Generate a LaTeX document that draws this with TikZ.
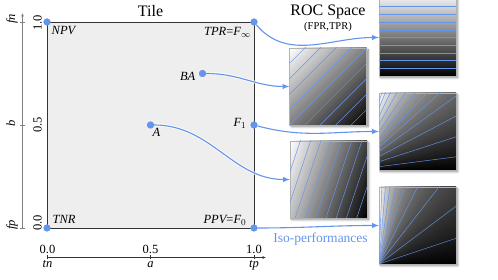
\documentclass[tikz,border=0pt]{standalone}
\usepackage{fontspec}
\setmainfont{Liberation Serif}
\usetikzlibrary{arrows.meta,shadows.blur}
\definecolor{cblue}{HTML}{6495ED}
\definecolor{tilefill}{HTML}{EEEEEE}
\pgfdeclarefunctionalshading{shtpr}{\pgfpoint{0bp}{0bp}}{\pgfpoint{100bp}{100bp}}{}{exch pop 25 sub 50 div 0.92 mul dup dup}
\pgfdeclarefunctionalshading{shba}{\pgfpoint{0bp}{0bp}}{\pgfpoint{100bp}{100bp}}{}{25 sub 50 div exch 25 sub 50 div sub 1 add 2 div dup dup}
\pgfdeclarefunctionalshading{shacc}{\pgfpoint{0bp}{0bp}}{\pgfpoint{100bp}{100bp}}{}{25 sub 50 div exch 25 sub 50 div 3 mul sub 3 add 4 div dup dup}
\pgfdeclarefunctionalshading{shfone}{\pgfpoint{0bp}{0bp}}{\pgfpoint{100bp}{100bp}}{}{25 sub 50 div exch 25 sub 50 div 3 mul 1 add 1 index add abs 0.001 add div 2 mul dup dup}
\pgfdeclarefunctionalshading{shppv}{\pgfpoint{0bp}{0bp}}{\pgfpoint{100bp}{100bp}}{}{25 sub 50 div exch 25 sub 50 div 3 mul 1 index add abs 0.001 add div dup dup}
\tikzset{
  tilebox/.style={fill=tilefill, draw=black!80, line width=0.9pt, minimum width=207pt, minimum height=206pt, inner sep=0pt, outer sep=0pt},
  img/.style={shade, draw=black!30, line width=0.3pt, minimum width=77pt, minimum height=77pt, inner sep=0pt, outer sep=0pt,
    blur shadow={shadow xshift=1.8pt, shadow yshift=-1.8pt, shadow blur steps=6, shadow blur radius=2pt, shadow opacity=45}},
  iso/.style={draw=cblue, line width=0.45pt},
  dot/.style={circle, fill=cblue, inner sep=0pt, minimum size=7pt},
  flow/.style={draw=cblue, line width=1.1pt, -{Latex[length=7pt,width=5.5pt]},
    preaction={draw=white, line width=3pt, opacity=0.75}},
  lbl/.style={font=\itshape\fontsize{12.5}{14}\selectfont, inner sep=0pt},
  ticklbl/.style={font=\fontsize{12.5}{14}\selectfont, inner sep=0pt},
  titl/.style={font=\fontsize{16}{18}\selectfont, inner sep=0pt},
  yaxis/.style={draw=black!50, line width=0.9pt},
  xaxis/.style={draw=black!80, line width=0.8pt},
}
\begin{document}
\begin{tikzpicture}[x=1pt,y=1pt]
\useasboundingbox (0,0) rectangle (498,280);
% tile
\node[tilebox] (tile) at (150.5,155) {};
\node[titl, anchor=base] (ttl) at (150.5,263.5) {Tile};
\node[titl, anchor=base] (roc) at (328,264) {ROC Space};
\node[ticklbl, font=\fontsize{10.5}{12}\selectfont, anchor=base] (fprtpr) at (328,250) {(FPR,TPR)};
% axes
\draw[yaxis, -{Latex[length=3.5pt,width=3pt]}] (22.5,52) -- (22.5,267);
\foreach \yy in {52,155,258} \draw[yaxis] (20.3,\yy) -- (24.7,\yy);
\draw[xaxis, -{Latex[length=3.5pt,width=3pt]}] (47,22.5) -- (266,22.5);
\foreach \xx in {47,150.5,254} \draw[xaxis] (\xx,20.5) -- (\xx,24.5);
\node[ticklbl, rotate=90, anchor=base] (y10) at (41.5,257) {1.0};
\node[ticklbl, rotate=90, anchor=base] (y05) at (41.5,155) {0.5};
\node[ticklbl, rotate=90, anchor=base] (y00) at (41.5,57) {0.0};
\node[lbl, rotate=90, anchor=base] (yfn) at (15,261) {fn};
\node[lbl, rotate=90, anchor=base] (yb) at (15,157) {b};
\node[lbl, rotate=90, anchor=base] (yfp) at (15,55) {fp};
\node[ticklbl, anchor=base] (x00) at (47.5,26.7) {0.0};
\node[ticklbl, anchor=base] (x05) at (150.5,26.7) {0.5};
\node[ticklbl, anchor=base] (x10) at (254,26.7) {1.0};
\node[lbl, anchor=base] (xtn) at (47.5,12.5) {tn};
\node[lbl, anchor=base] (xa) at (150.5,12.5) {a};
\node[lbl, anchor=base] (xtp) at (254,12.5) {tp};
% points
\node[dot] (npv) at (47,258) {};
\node[dot] (tpr) at (254,258) {};
\node[dot] (ba) at (202.5,206.5) {};
\node[dot] (f1) at (254,155) {};
\node[dot] (a) at (150.5,155) {};
\node[dot] (tnr) at (47,52) {};
\node[dot] (ppv) at (254,52) {};
\node[lbl, anchor=base west] (lnpv) at (51.5,245) {NPV};
\node[lbl, anchor=base east] (ltpr) at (251,244) {TPR\upshape=\itshape F$_\infty$};
\node[lbl, anchor=base east] (lba) at (195.5,199) {BA};
\node[lbl, anchor=base east] (lf1) at (246.5,153) {F$_1$};
\node[lbl, anchor=base west] (la) at (152.5,143.5) {A};
\node[lbl, anchor=base west] (ltnr) at (52.5,56.7) {TNR};
\node[lbl, anchor=base east] (lppv) at (246.5,56.7) {PPV\upshape=\itshape F$_0$};
% images
\node[img, shading=shtpr] (i1) at (417.5,242.5) {};
\node[img, shading=shba] (i2) at (328,193.5) {};
\node[img, shading=shfone] (i3) at (417.5,148.5) {};
\node[img, shading=shacc] (i4) at (328.5,100.5) {};
\node[img, shading=shppv] (i5) at (417.5,54.5) {};
% iso lines
\begin{scope}[shift={(i1.south west)}, x=77pt, y=77pt]
  \clip (0,0) rectangle (1,1);
  \foreach \t in {0.1,0.2,0.3,0.4,0.5,0.6,0.7,0.8,0.9} \draw[iso] (0,\t) -- (1,\t);
\end{scope}
\begin{scope}[shift={(i2.south west)}, x=77pt, y=77pt]
  \clip (0,0) rectangle (1,1);
  \foreach \c in {-0.8,-0.6,-0.4,-0.2,0,0.2,0.4,0.6,0.8} \draw[iso] (-1,{-1+\c}) -- (2,{2+\c});
\end{scope}
\begin{scope}[shift={(i3.south west)}, x=77pt, y=77pt]
  \clip (0,0) rectangle (1,1);
  \foreach \ang in {7.3,17.9,27.7,35.8,41.7,46.3,51.2,56.0,60.6,64.4,67.5,69.6} \draw[iso] (-0.3333,0) -- ++(\ang:3);
\end{scope}
\begin{scope}[shift={(i4.south west)}, x=77pt, y=77pt]
  \clip (0,0) rectangle (1,1);
  \foreach \c in {-2.6,-2.2,-1.8,-1.4,-1.0,-0.6,-0.2,0.2,0.6} \draw[iso] (-1,{-3+\c}) -- (2,{6+\c});
\end{scope}
\begin{scope}[shift={(i5.south west)}, x=77pt, y=77pt]
  \clip (0,0) rectangle (1,1);
  \foreach \ang in {18.43,36.87,52.13,63.43,71.57,77.47,81.87,85.24,87.88} \draw[iso] (0,0) -- (\ang:2);
\end{scope}
% connectors
\draw[flow] (tpr) to[out=-50, in=180] (i1.west);
\draw[flow] (ba) to[out=0, in=180] (i2.west);
\draw[flow] (f1) to[out=-15, in=180] (i3.west);
\draw[flow] (a) to[out=0, in=180] (i4.west);
\draw[flow] (ppv) to[out=0, in=180] (i5.west);
% dots on top of connector halos
\foreach \p in {npv,tpr,ba,f1,a,tnr,ppv} \fill[cblue] (\p.center) circle (3.5pt);
\node[ticklbl, text=cblue, font=\fontsize{13.5}{15}\selectfont, anchor=base] (iso) at (320.5,37) {Iso-performances};
\end{tikzpicture}
\end{document}
